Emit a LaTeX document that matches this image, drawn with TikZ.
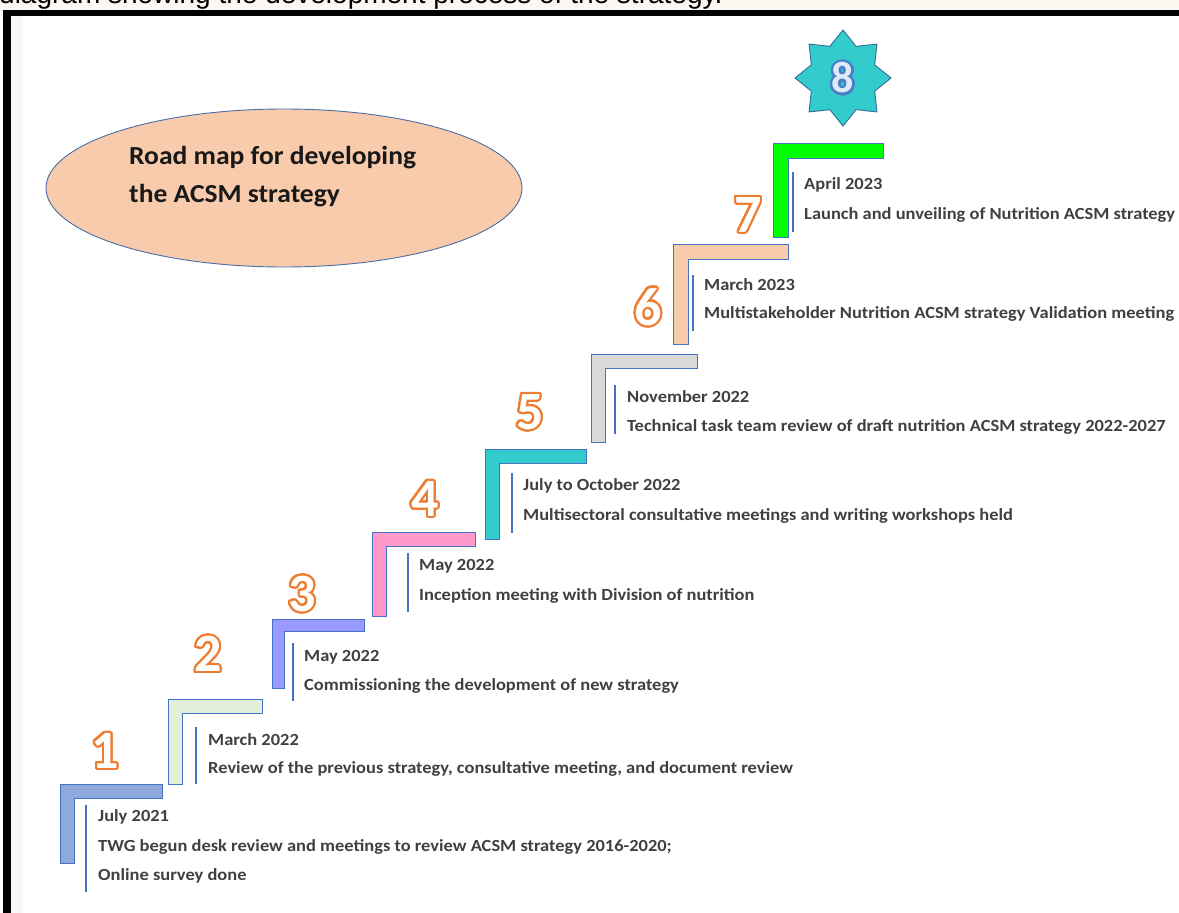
\documentclass[tikz,border=0pt]{standalone}
\usepackage{fontspec}
\usepackage{contour}
\setmainfont{Carlito}
\newfontfamily\capfont{Liberation Sans}
\newfontfamily\labelfont[FakeStretch=1.085]{Carlito}
\newfontfamily\titlefont[FakeStretch=1.06]{Carlito}
\usetikzlibrary{shapes.geometric}

\definecolor{pagecream}{HTML}{FCF8F1}
\definecolor{sidestrip}{HTML}{F4F7FB}
\definecolor{edgeblue}{HTML}{4472C4}
\definecolor{labelgray}{HTML}{404040}
\definecolor{numorange}{HTML}{ED7D31}
\definecolor{ovalfill}{HTML}{F8CBAD}
\definecolor{ovaledge}{HTML}{4A6FA5}
\definecolor{starfill}{HTML}{33CCCC}
\definecolor{staredge}{HTML}{2F6C9A}
\definecolor{eightfill}{HTML}{DDEBF7}
\definecolor{eightedge}{HTML}{4A7FC8}
\definecolor{stepA}{HTML}{8EA9DB}
\definecolor{stepB}{HTML}{E2F0D9}
\definecolor{stepC}{HTML}{9999FF}
\definecolor{stepD}{HTML}{FF99CC}
\definecolor{stepE}{HTML}{33CCCC}
\definecolor{stepF}{HTML}{D9D9D9}
\definecolor{stepG}{HTML}{F8CBAD}
\definecolor{stepH}{HTML}{00FF00}

\contourlength{2.2pt}
\contournumber{24}

% one stair: left x, top y, right x, bottom y, bar thickness, fill colour
\newcommand\stairstep[6]{%
  \filldraw[fill=#6, draw=edgeblue, line width=0.9pt]
    (#1,#2) -- (#3,#2) -- (#3,#2+#5) -- (#1+#5,#2+#5) -- (#1+#5,#4) -- (#1,#4) -- cycle;}
% the thin blue bar that stands left of each text block
\newcommand\leader[3]{\draw[leaderline] (#1,#2) -- (#1,#3);}
\newcommand\bignum[1]{\contour{numorange}{\textcolor{white}{#1}}}

\begin{document}
\begin{tikzpicture}[x=1pt,y=-1pt,
  datetext/.style={anchor=west, inner sep=0pt, text=labelgray,
    font=\labelfont\fontsize{17}{20}\selectfont\bfseries},
  numlabel/.style={inner sep=0pt, font=\fontsize{54}{58}\selectfont\bfseries},
  leaderline/.style={draw=edgeblue, line width=1.3pt}]

\useasboundingbox (0,0) rectangle (1179,913);
\begin{scope}
\clip (0,0) rectangle (1179,913);
% page background, caption strip and frame
\fill[white] (0,0) rectangle (1179,913);
\fill[pagecream] (0,0) rectangle (1179,11);
\node[anchor=base west, inner sep=0pt, font=\capfont\fontsize{28}{30}\selectfont]
  (caption) at (-1,3) {diagram showing the development process of the strategy.};
\fill[sidestrip] (11,16) rectangle (22,913);
\fill[black] (3,10) rectangle (1179,16);
\fill[black] (3,10) rectangle (11,913);
\end{scope}

% title oval
\node[ellipse, minimum width=476pt, minimum height=158pt, fill=ovalfill,
  draw=ovaledge, line width=0.9pt] (oval) at (284,188) {};
\node[anchor=west, align=left, inner sep=0pt, text=black!90,
  font=\titlefont\fontsize{26}{38}\selectfont\bfseries] (title) at (129,177)
  {Road map for developing\\the ACSM strategy};

% stairs
\stairstep{60}{784}{162}{863}{14}{stepA}
\stairstep{168}{699}{262}{784}{14}{stepB}
\stairstep{272}{619}{364}{688}{12}{stepC}
\stairstep{372}{532}{475}{616}{14}{stepD}
\stairstep{485}{449}{586}{539}{14}{stepE}
\stairstep{591}{354}{697}{442}{14}{stepF}
\stairstep{673}{244}{788}{344}{15}{stepG}
\stairstep{773}{143}{883}{237}{15}{stepH}

% leaders
\leader{86}{805}{892}
\leader{196}{727}{784}
\leader{293}{643}{701}
\leader{408}{553}{612}
\leader{512}{473}{533}
\leader{615}{385}{434}
\leader{693}{275}{331}
\leader{793}{172}{232}

% step numbers
\node[numlabel] (n1) at (105,752) {\bignum{1}};
\node[numlabel] (n2) at (208,655) {\bignum{2}};
\node[numlabel] (n3) at (302,595) {\bignum{3}};
\node[numlabel] (n4) at (425,500) {\bignum{4}};
\node[numlabel] (n5) at (530,413) {\bignum{5}};
\node[numlabel] (n6) at (648,308) {\bignum{6}};
\node[numlabel] (n7) at (748,216) {\bignum{7}};

% final star
\node[star, star points=8, star point ratio=1.4, minimum size=96pt, inner sep=0pt,
  fill=starfill, draw=staredge, line width=0.9pt] (star) at (843,78) {};
\node[inner sep=0pt, font=\fontsize{44}{48}\selectfont\bfseries] (n8) at (843,79)
  {\contour{eightedge}{\textcolor{eightfill}{8}}};

% step texts
\node[datetext] (d1) at (98,817) {July 2021};
\node[datetext] (t1a) at (98,847) {TWG begun desk review and meetings to review ACSM strategy 2016-2020;};
\node[datetext] (t1b) at (98,876) {Online survey done};
\node[datetext] (d2) at (208,740) {March 2022};
\node[datetext] (t2) at (208,769) {Review of the previous strategy, consultative meeting, and document review};
\node[datetext] (d3) at (304,657) {May 2022};
\node[datetext] (t3) at (304,686) {Commissioning the development of new strategy};
\node[datetext] (d4) at (419,566) {May 2022};
\node[datetext] (t4) at (419,596) {Inception meeting with Division of nutrition};
\node[datetext] (d5) at (523,486) {July to October 2022};
\node[datetext] (t5) at (523,516) {Multisectoral consultative meetings and writing workshops held};
\node[datetext] (d6) at (627,397) {November 2022};
\node[datetext] (t6) at (627,427) {Technical task team review of draft nutrition ACSM strategy 2022-2027};
\node[datetext] (d7) at (704,285) {March 2023};
\node[datetext] (t7) at (704,314) {Multistakeholder Nutrition ACSM strategy Validation meeting};
\node[datetext] (d8) at (804,185) {April 2023};
\node[datetext] (t8) at (804,215) {Launch and unveiling of Nutrition ACSM strategy};
\end{tikzpicture}
\end{document}
